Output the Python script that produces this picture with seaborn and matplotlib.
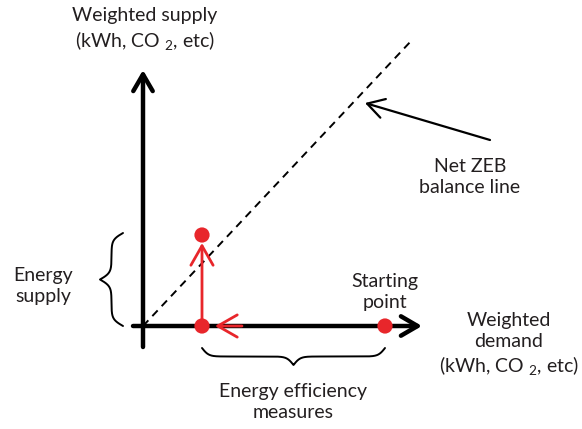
import numpy as np
import pandas as pd
import matplotlib.pyplot as plt
import seaborn as sns

# Diagram data (arbitrary units, origin = axes crossing)
path_labels = ["Starting point", "Efficiency", "Supply"]
path_demand = [242, 59, 59]
path_supply = [0, 0, 91]
balance_demand = [0, 269]
balance_supply = [0, 286]

sns.set_theme(style="white")
plt.rcParams['font.family'] = ['Lato', 'DejaVu Sans']
plt.rcParams['mathtext.fontset'] = 'custom'
plt.rcParams['mathtext.rm'] = 'Lato'

RED = '#e8262b'
TXT = '#231f20'

fig = plt.figure(figsize=(5.82, 4.29), dpi=100)
ax = fig.add_axes([0, 0, 1, 1])
ax.set_xlim(-143, 439)
ax.set_ylim(-103, 326)
ax.axis('off')

head = '->,head_length=0.6,head_width=0.35'

# axes arrows
ax.annotate('', xy=(0, 256), xytext=(0, -21),
            arrowprops=dict(arrowstyle=head, lw=3.2, color='black',
                            mutation_scale=20, shrinkA=0, shrinkB=0))
ax.annotate('', xy=(279, 0), xytext=(-10, 0),
            arrowprops=dict(arrowstyle=head, lw=3.2, color='black',
                            mutation_scale=20, shrinkA=0, shrinkB=0))

# balance line
df_bal = pd.DataFrame({'demand': balance_demand, 'supply': balance_supply})
sns.lineplot(data=df_bal, x='demand', y='supply', ax=ax, color='black',
             lw=1.4, linestyle=(0, (4, 3)))

ax.annotate('', xy=(222, 223), xytext=(347, 186),
            arrowprops=dict(arrowstyle=head, lw=1.6, color='black',
                            mutation_scale=20, shrinkA=0, shrinkB=0))

# red path
ax.plot([path_demand[0], path_demand[1]], [path_supply[0], path_supply[1]],
        color=RED, lw=2, solid_capstyle='butt')
ax.annotate('', xy=(path_demand[1] + 13, 0), xytext=(path_demand[1] + 40, 0),
            arrowprops=dict(arrowstyle='->,head_length=0.7,head_width=0.4', lw=2,
                            color=RED, mutation_scale=20, shrinkA=0, shrinkB=0))
ax.annotate('', xy=(path_demand[2], path_supply[2] - 8),
            xytext=(path_demand[1], path_supply[1]),
            arrowprops=dict(arrowstyle='->,head_length=0.7,head_width=0.4', lw=2,
                            color=RED, mutation_scale=20, shrinkA=0, shrinkB=0))

df_path = pd.DataFrame({'label': path_labels, 'demand': path_demand, 'supply': path_supply})
sns.scatterplot(data=df_path, x='demand', y='supply', ax=ax, color=RED,
                s=120, edgecolor='none', zorder=5, legend=False)


# curly brace between two points, bulging to the right of p0->p1
def brace(ax, p0, p1, depth, beta=0.3, lw=1.4):
    p0 = np.array(p0, float)
    p1 = np.array(p1, float)
    d = p1 - p0
    L = np.linalg.norm(d)
    u = d / L
    n = np.array([u[1], -u[0]])
    s = np.linspace(0, L / 2, 200)
    half = 1 / (1 + np.exp(-beta * (s - s[0]))) + 1 / (1 + np.exp(-beta * (s - s[-1])))
    off = np.concatenate((half, half[-2::-1]))
    off = (off - off.min()) / (off.max() - off.min()) * depth
    t = np.concatenate((s, L - s[-2::-1]))
    pts = p0[None, :] + t[:, None] * u[None, :] + off[:, None] * n[None, :]
    ax.plot(pts[:, 0], pts[:, 1], color='black', lw=lw)


brace(ax, (-20, 93), (-20, 0), 23)
brace(ax, (59, -22), (242, -22), 17)

fs = 14
ax.text(2, 296, 'Weighted supply\n(kWh, CO $_2$, etc)', ha='center', va='center',
        fontsize=fs, color=TXT, linespacing=1.3)
ax.text(-100, 40, 'Energy\nsupply', ha='center', va='center', fontsize=fs,
        color=TXT, linespacing=1.3)
ax.text(242, 34, 'Starting\npoint', ha='center', va='center', fontsize=fs,
        color=TXT, linespacing=1.3)
ax.text(436, -19, 'Weighted\ndemand\n(kWh, CO $_2$, etc)', ha='right', va='center',
        multialignment='center', fontsize=fs, color=TXT, linespacing=1.3)
ax.text(150, -76, 'Energy efficiency\nmeasures', ha='center', va='center',
        fontsize=fs, color=TXT, linespacing=1.3)
ax.text(327, 149, 'Net ZEB\nbalance line', ha='center', va='center', fontsize=fs,
        color=TXT, linespacing=1.3)

fig.savefig('out.png', dpi=100)
